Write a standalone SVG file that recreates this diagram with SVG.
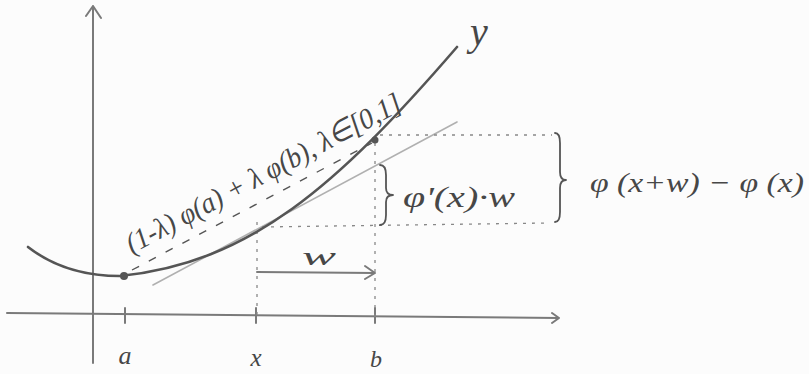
<svg xmlns="http://www.w3.org/2000/svg" width="809" height="374" viewBox="0 0 809 374">
<style>
.axis{fill:none;stroke:#7a7a7a;stroke-width:2;stroke-linecap:round;stroke-linejoin:round}
.curve{fill:none;stroke:#555;stroke-width:2.6;stroke-linecap:round}
.tan{fill:none;stroke:#b0b0b0;stroke-width:1.6;stroke-linecap:round}
.dash{fill:none;stroke:#555;stroke-width:1.4;stroke-dasharray:8 11}
.dot{fill:none;stroke:#888;stroke-width:1.3;stroke-dasharray:3 6}
.brace{fill:none;stroke:#555;stroke-width:1.8;stroke-linejoin:round;stroke-linecap:round}
.lbl{font-family:"Liberation Serif",serif;font-style:italic;fill:#474747}
.pt{fill:#555}
</style>
<rect width="809" height="374" fill="#fcfcfc"/>
<g id="axes">
<path class="axis" d="M93,363 L93,6 M86,16 L93,6 L101,18"/>
<path class="axis" d="M7,313 L559,318 M552,313 L559,318 L552,323"/>
<path class="axis" d="M125,308 L125,323 M256,308 L256,323 M375,308 L375,323" stroke-width="1.6"/>
</g>
<g id="connectors">
<path class="tan" d="M153,285 L457,122"/>
<path class="dash" d="M132,270 L372,143"/>
<path class="dot" d="M375,143 L375,318 M257,222 L257,316 M380,135 L552,135 M262,227 L550,223"/>
<path class="axis" d="M257,272 L375,273 M365,266 L375,273 L365,279" stroke-width="1.6"/>
</g>
<g id="curve-y">
<path class="curve" d="M28,247 C55,268 85,276 120,276 C250,263 337,186 457,47"/>
<text class="lbl" x="470" y="45" font-size="40">y</text>
</g>
<g id="point-a"><circle class="pt" cx="124" cy="276" r="4"/></g>
<g id="point-b"><circle class="pt" cx="375" cy="140" r="3.5"/></g>
<g id="secant-label">
<text class="lbl" font-size="29" textLength="308" lengthAdjust="spacingAndGlyphs" transform="translate(132,254) rotate(-28)">(1-λ) φ(a) + λ φ(b), λ∈[0,1]</text>
</g>
<g id="brace-small">
<path class="brace" d="M380,165 Q386,165 386,175 L386,188 Q386,195 393,195 Q386,195 386,202 L386,215 Q386,225 380,225"/>
<text class="lbl" x="403" y="207" font-size="30" textLength="112" lengthAdjust="spacingAndGlyphs">φ'(x)·w</text>
</g>
<g id="brace-big">
<path class="brace" d="M555,133 Q560,133 560,143 L560,172 Q560,180 566,180 Q560,180 560,188 L560,212 Q560,222 555,222"/>
<text class="lbl" x="590" y="192" font-size="28" textLength="214" lengthAdjust="spacingAndGlyphs">φ (x+w) − φ (x)</text>
</g>
<g id="labels">
<text class="lbl" x="125" y="364" font-size="26" text-anchor="middle">a</text>
<text class="lbl" x="256" y="366" font-size="25" text-anchor="middle">x</text>
<text class="lbl" x="376" y="367" font-size="24" text-anchor="middle">b</text>
<text class="lbl" x="302" y="265" font-size="26" textLength="34" lengthAdjust="spacingAndGlyphs">w</text>
</g>
</svg>
